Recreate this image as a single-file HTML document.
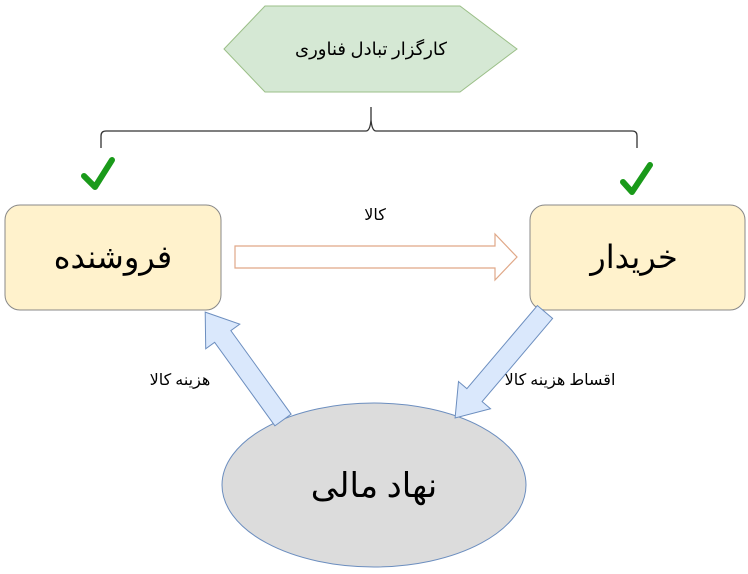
<!DOCTYPE html>
<html><head><meta charset="utf-8"><style>
body{margin:0;background:#fff;width:748px;height:569px;overflow:hidden}
svg text{font-family:"Liberation Serif","DejaVu Sans",serif}
</style></head><body>
<svg width="748" height="569" viewBox="0 0 748 569" xmlns="http://www.w3.org/2000/svg">
<polygon points="224,49 265,6 460,6 517,49 460,92 265,92" fill="#d5e8d4" stroke="#9bbf88" stroke-width="1"/>
<text x="371" y="55" font-size="18" text-anchor="middle" direction="rtl">کارگزار تبادل فناوری</text>
<path d="M101,148 V136 Q101,131 106,131 H366 Q370,131 371,120 V107 M371,120 Q372,131 376,131 H632 Q637,131 637,136 V148" fill="none" stroke="#333" stroke-width="1.3"/>
<path d="M84,176 L95,187 L112,160" fill="none" stroke="#1a9a1a" stroke-width="6" stroke-linecap="round" stroke-linejoin="round"/>
<path d="M623,182 L632,192 L650,165" fill="none" stroke="#1a9a1a" stroke-width="6" stroke-linecap="round" stroke-linejoin="round"/>
<rect x="5" y="205" width="216" height="105" rx="15" fill="#fff2cc" stroke="#888" stroke-width="1"/>
<rect x="530" y="205" width="215" height="105" rx="15" fill="#fff2cc" stroke="#888" stroke-width="1"/>
<text x="113" y="268" font-size="32" text-anchor="middle" direction="rtl">فروشنده</text>
<text x="634" y="268" font-size="32" text-anchor="middle" direction="rtl">خریدار</text>
<polygon points="235,246 495,246 495,234 517,257 495,280 495,268 235,268" fill="#fff" stroke="#e0a888" stroke-width="1.2"/>
<text x="375" y="220" font-size="16" text-anchor="middle" direction="rtl">کالا</text>
<ellipse cx="374" cy="485" rx="152" ry="82" fill="#dcdcdc" stroke="#6c8ebf" stroke-width="1"/>
<text x="374" y="497" font-size="34" text-anchor="middle" direction="rtl">نهاد مالی</text>
<g transform="translate(283,420) rotate(-125.8)">
<polygon points="0,-10 103,-10 103,-21 133,0 103,21 103,10 0,10" fill="#dae8fc" stroke="#6c8ebf" stroke-width="1"/></g>
<g transform="translate(545,312) rotate(130.3)">
<polygon points="0,-10 109,-10 109,-21 139,0 109,21 109,10 0,10" fill="#dae8fc" stroke="#6c8ebf" stroke-width="1"/></g>
<text x="180" y="385" font-size="16" text-anchor="middle" direction="rtl">هزینه کالا</text>
<text x="560" y="385" font-size="16" text-anchor="middle" direction="rtl">اقساط هزینه کالا</text>
</svg>
</body></html>
